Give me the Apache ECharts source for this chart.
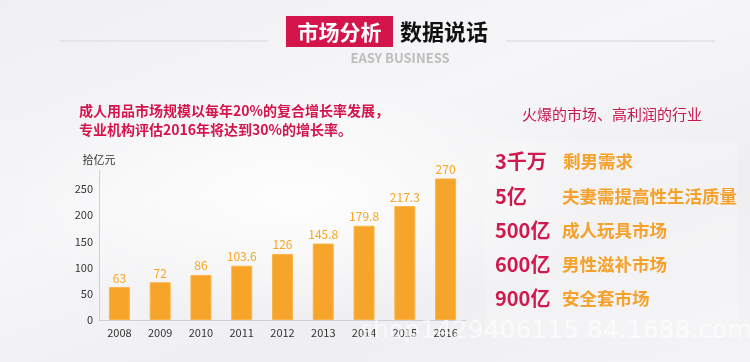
<!DOCTYPE html>
<html><head><meta charset="utf-8">
<script src="https://cdn.jsdelivr.net/npm/echarts@6/dist/echarts.min.js"></script>
<style>
html,body{margin:0;padding:0;}
body{width:750px;height:362px;background:
 radial-gradient(ellipse 300px 120px at 300px 200px, rgba(255,255,255,0.9), rgba(255,255,255,0) 100%),
 linear-gradient(160deg,#f0f0f3 0%,#f6f6f8 40%,#efeff2 70%,#f4f3f5 100%);}
#c{width:750px;height:362px;}
</style></head>
<body><div id="c"></div>
<script>
const years = ['2008','2009','2010','2011','2012','2013','2014','2015','2016'];
const values = [63, 72, 86, 103.6, 126, 145.8, 179.8, 217.3, 270];
const yTicks = [0, 50, 100, 150, 200, 250];
const unitName = '拾亿元';
const titleRed = '市场分析';
const titleBlack = '数据说话';
const titleSub = 'EASY BUSINESS';
const introLines = ['成人用品市场规模以每年20%的复合增长率发展，', '专业机构评估2016年将达到30%的增长率。'];
const sideHeader = '火爆的市场、高利润的行业';
const listNumbers = ['3千万', '5亿', '500亿', '600亿', '900亿'];
const listTexts = ['剩男需求', '夫妻需提高性生活质量', '成人玩具市场', '男性滋补市场', '安全套市场'];

const FONT = '"Noto Sans CJK SC", "Noto Sans", sans-serif';
const chart = echarts.init(document.getElementById('c'));

const graphics = [
  {type:'line', shape:{x1:60,y1:41,x2:268,y2:41}, style:{stroke:'#d8d8dc', lineWidth:1}},
  {type:'line', shape:{x1:506,y1:41,x2:715,y2:41}, style:{stroke:'#d8d8dc', lineWidth:1}},
  {type:'rect', shape:{x:286,y:16,width:107,height:31}, style:{fill:'#d4154c'}},
  {type:'text', x:339.5, y:32, style:{text:titleRed, fill:'#fff', font:'bold 21px '+FONT, align:'center', verticalAlign:'middle'}},
  {type:'text', x:444, y:32, style:{text:titleBlack, fill:'#111', font:'bold 22px '+FONT, align:'center', verticalAlign:'middle'}},
  {type:'text', x:400, y:58, style:{text:titleSub, fill:'#bdbdbd', font:'bold 13px '+FONT, align:'center', verticalAlign:'middle'}},
  {type:'rect', shape:{x:485,y:142,width:253,height:196}, style:{fill:'rgba(255,255,255,0.2)'}},
  {type:'text', x:612, y:114, style:{text:sideHeader, fill:'#c8184f', font:'15px '+FONT, align:'center', verticalAlign:'middle'}}
];
introLines.forEach((t,i)=>graphics.push({type:'text', x:79, y:110.5+i*19, style:{text:t, fill:'#d4154c', font:'bold 14px '+FONT, verticalAlign:'middle'}}));
const rowY = [161.5, 196, 230, 264, 298.5];
listNumbers.forEach((t,i)=>graphics.push({type:'text', x:495, y:rowY[i], style:{text:t, fill:'#cf1a4d', font:'bold 20px '+FONT, verticalAlign:'middle'}}));
listTexts.forEach((t,i)=>graphics.push({type:'text', x:i===0?563:562, y:rowY[i], style:{text:t, fill:'#f5a12a', font:'bold 17.5px '+FONT, verticalAlign:'middle'}}));
graphics.push({type:'text', x:360, y:331, z:100, style:{text:'shop1429406115 84.1688.com', fill:'rgba(255,255,255,0.6)', font:'25px "DejaVu Sans", sans-serif', verticalAlign:'middle'}});

chart.setOption({
  animation:false,
  textStyle:{fontFamily:FONT},
  grid:{left:99, top:170, width:367, height:150, containLabel:false},
  xAxis:{type:'category', data:years,
    axisLine:{lineStyle:{color:'#cfcfd4', width:1}}, axisTick:{show:false},
    axisLabel:{color:'#333', fontSize:11, margin:7, interval:0}},
  yAxis:{type:'value', min:0, max:286, interval:50, name:unitName,
    nameLocation:'end', nameGap:5, nameTextStyle:{color:'#333', fontSize:11, align:'center'},
    axisLine:{show:true, lineStyle:{color:'#cfcfd4', width:1}}, axisTick:{show:false}, splitLine:{show:false},
    axisLabel:{color:'#333', fontSize:11, margin:6, showMaxLabel:false,
      formatter:v=> yTicks.indexOf(v)>=0 ? String(v) : ''}},
  series:[{type:'bar', data:values, barWidth:21,
    itemStyle:{color:'#f7a52a', borderColor:'#f9b54a', borderWidth:1},
    label:{show:true, position:'top', distance:3, color:'#f5a623', fontSize:12}}],
  graphic:graphics
});
</script></body></html>
